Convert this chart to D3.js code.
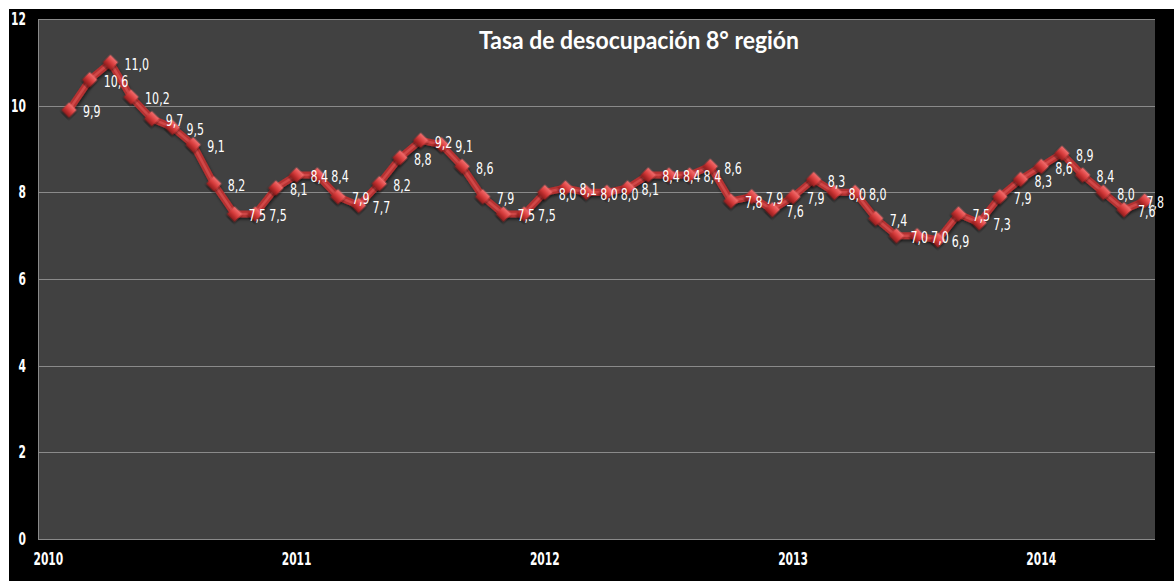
<!DOCTYPE html>
<html>
<head>
<meta charset="utf-8">
<script src="https://cdn.jsdelivr.net/npm/d3@7"></script>
<style>
body { margin: 0; background: #fff; }
svg text { font-family: "DejaVu Sans Condensed", "Liberation Sans Narrow", sans-serif; fill: #fff; }
.axis path, .axis line { display: none; }
</style>
</head>
<body>
<div id="chart"></div>
<script>
// monthly series, first value is Feb 2010, last is Jun 2014
const firstMonth = "2010-01";
const lastMonth = "2014-06";
const valueStart = "2010-02";
const values = [9.9, 10.6, 11.0, 10.2, 9.7, 9.5, 9.1, 8.2, 7.5, 7.5, 8.1,
    8.4, 8.4, 7.9, 7.7, 8.2, 8.8, 9.2, 9.1, 8.6, 7.9, 7.5, 7.5,
    8.0, 8.1, 8.0, 8.0, 8.1, 8.4, 8.4, 8.4, 8.6, 7.8, 7.9, 7.6,
    7.9, 8.3, 8.0, 8.0, 7.4, 7.0, 7.0, 6.9, 7.5, 7.3, 7.9, 8.3,
    8.6, 8.9, 8.4, 8.0, 7.6, 7.8];
const yearLabels = ["2010", "2011", "2012", "2013", "2014"];
const yTicks = [0, 2, 4, 6, 8, 10, 12];
const title = "Tasa de desocupación 8° región";

const width = 1174, height = 581;
const plot = { left: 38, right: 1155, top: 19, bottom: 539 };

const parseMonth = d3.timeParse("%Y-%m");
const fmtMonth = d3.timeFormat("%Y-%m");
const months = d3.timeMonth.range(parseMonth(firstMonth), d3.timeMonth.offset(parseMonth(lastMonth), 1)).map(fmtMonth);
const startIdx = months.indexOf(valueStart);
const data = values.map((v, i) => ({ month: months[startIdx + i], value: v }));

const x = d3.scaleBand().domain(months).range([plot.left, plot.right]);
const y = d3.scaleLinear().domain([0, 12]).range([plot.bottom, plot.top]);
const cx = m => x(m) + x.bandwidth() / 2;

const svg = d3.select("#chart").append("svg")
    .attr("width", width)
    .attr("height", height);

const defs = svg.append("defs");
const grad = defs.append("linearGradient")
    .attr("id", "mk").attr("x1", 0).attr("y1", 0).attr("x2", 0).attr("y2", 1);
grad.append("stop").attr("offset", "0%").attr("stop-color", "#f47070");
grad.append("stop").attr("offset", "50%").attr("stop-color", "#d63a3a");
grad.append("stop").attr("offset", "100%").attr("stop-color", "#8e1c1c");

const shadow = defs.append("filter").attr("id", "shadow")
    .attr("x", "-20%").attr("y", "-20%").attr("width", "140%").attr("height", "140%");
shadow.append("feDropShadow")
    .attr("dx", 1).attr("dy", 2).attr("stdDeviation", 1.5)
    .attr("flood-color", "#000").attr("flood-opacity", 0.55);

// black frame + plot area
svg.append("rect").attr("x", 9).attr("y", 9)
    .attr("width", width - 9).attr("height", height - 9).attr("fill", "#000");
svg.append("rect")
    .attr("x", plot.left).attr("y", plot.top)
    .attr("width", plot.right - plot.left).attr("height", plot.bottom - plot.top)
    .attr("fill", "#414141");

svg.append("g").selectAll("line")
    .data(yTicks)
    .join("line")
    .attr("x1", plot.left).attr("x2", plot.right)
    .attr("y1", d => Math.round(y(d)) + 0.5).attr("y2", d => Math.round(y(d)) + 0.5)
    .attr("stroke", "#8a8a8a").attr("stroke-width", 1);
svg.append("line")
    .attr("x1", plot.left + 0.5).attr("x2", plot.left + 0.5)
    .attr("y1", plot.top).attr("y2", plot.bottom)
    .attr("stroke", "#8a8a8a");

// y axis
svg.append("g")
    .attr("class", "axis")
    .attr("transform", "translate(" + (plot.left - 12) + ",0)")
    .call(d3.axisLeft(y).tickValues(yTicks).tickSize(0).tickPadding(0))
    .call(g => g.selectAll("text")
        .style("font-size", "17px").style("font-weight", "bold")
        .attr("transform", "scale(0.7,1)")
        .attr("fill", "#fff"));

// x axis, years on the January bands
const janMonths = yearLabels.map(yr => yr + "-01");
svg.append("g")
    .attr("class", "axis")
    .attr("transform", "translate(0," + plot.bottom + ")")
    .call(d3.axisBottom(x).tickValues(janMonths).tickFormat(m => m.slice(0, 4)).tickSize(0).tickPadding(14))
    .call(g => g.selectAll("text")
        .style("font-size", "17px").style("font-weight", "bold")
        .attr("transform", "scale(0.7,1)")
        .attr("fill", "#fff"));

// title
svg.append("text")
    .attr("x", 639).attr("y", 49)
    .attr("text-anchor", "middle")
    .style("font-family", "Lato, 'Open Sans', sans-serif")
    .style("font-weight", "bold")
    .style("font-size", "24px")
    .attr("textLength", 320)
    .attr("lengthAdjust", "spacingAndGlyphs")
    .text(title);

// line
const line = d3.line()
    .x(d => cx(d.month))
    .y(d => y(d.value));

svg.append("path")
    .datum(data)
    .attr("d", line)
    .attr("fill", "none")
    .attr("stroke", "#b53030")
    .attr("stroke-width", 7)
    .attr("stroke-linejoin", "round")
    .attr("filter", "url(#shadow)");
svg.append("path")
    .datum(data)
    .attr("d", line)
    .attr("fill", "none")
    .attr("stroke", "#d04848")
    .attr("stroke-width", 2.5)
    .attr("stroke-linejoin", "round");

// diamond markers
svg.append("g").selectAll("path")
    .data(data)
    .join("path")
    .attr("d", d3.symbol(d3.symbolSquare, 115))
    .attr("transform", d => "translate(" + cx(d.month) + "," + y(d.value) + ") rotate(45)")
    .attr("fill", "url(#mk)")
    .attr("filter", "url(#shadow)");

// data labels, right of each point, kept inside the frame
const fmt = d3.format(".1f");
const sx = 0.82;
svg.append("g").selectAll("text")
    .data(data)
    .join("text")
    .attr("dy", "0.35em")
    .style("font-size", "15px")
    .text(d => fmt(d.value).replace(".", ","))
    .attr("transform", function(d) {
        const w = this.getComputedTextLength() * sx;
        const lx = Math.min(cx(d.month) + 14, 1164 - w);
        return "translate(" + lx + "," + (y(d.value) + 2) + ") scale(" + sx + ",1)";
    });
</script>
</body>
</html>
